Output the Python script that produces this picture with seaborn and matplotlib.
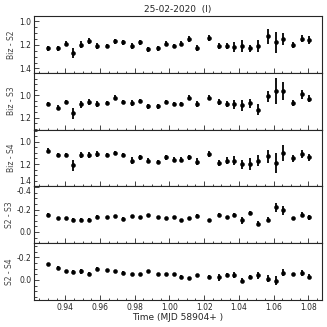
import matplotlib
matplotlib.use("Agg")
import matplotlib.pyplot as plt
from matplotlib.ticker import AutoMinorLocator
import seaborn as sns
import pandas as pd

# observation times (MJD - 58904)
time = [0.9300, 0.9358, 0.9402, 0.9446, 0.9490, 0.9536, 0.9582, 0.9640,
        0.9684, 0.9730, 0.9787, 0.9832, 0.9876, 0.9935, 0.9981, 1.0025,
        1.0069, 1.0113, 1.0158, 1.0229, 1.0286, 1.0330, 1.0374, 1.0420,
        1.0464, 1.0509, 1.0566, 1.0612, 1.0656, 1.0714, 1.0762, 1.0806]

biz_s2 = [1.23, 1.23, 1.19, 1.27, 1.20, 1.17, 1.21, 1.21, 1.17, 1.18, 1.21, 1.18,
          1.24, 1.23, 1.19, 1.21, 1.19, 1.15, 1.23, 1.14, 1.21, 1.21, 1.22, 1.21,
          1.23, 1.21, 1.13, 1.18, 1.15, 1.20, 1.15, 1.16]
biz_s2_err = [0.02, 0.02, 0.02, 0.04, 0.03, 0.025, 0.025, 0.02, 0.02, 0.02, 0.025, 0.02,
              0.02, 0.02, 0.02, 0.02, 0.02, 0.025, 0.025, 0.025, 0.025, 0.025, 0.04, 0.05,
              0.03, 0.05, 0.06, 0.09, 0.05, 0.025, 0.03, 0.03]

biz_s3 = [1.08, 1.11, 1.06, 1.16, 1.08, 1.06, 1.08, 1.07, 1.02, 1.06, 1.07, 1.05,
          1.10, 1.10, 1.06, 1.08, 1.08, 1.02, 1.08, 1.02, 1.06, 1.08, 1.08, 1.09,
          1.07, 1.13, 1.01, 0.96, 0.96, 1.07, 0.99, 1.03]
biz_s3_err = [0.02, 0.02, 0.02, 0.05, 0.03, 0.025, 0.025, 0.02, 0.02, 0.02, 0.025, 0.02,
              0.02, 0.02, 0.02, 0.02, 0.02, 0.025, 0.025, 0.025, 0.025, 0.025, 0.04, 0.05,
              0.04, 0.05, 0.05, 0.12, 0.08, 0.03, 0.04, 0.03]

biz_s4 = [1.08, 1.12, 1.12, 1.21, 1.12, 1.12, 1.11, 1.12, 1.10, 1.12, 1.17, 1.14,
          1.17, 1.18, 1.14, 1.16, 1.16, 1.14, 1.18, 1.11, 1.19, 1.17, 1.17, 1.20,
          1.20, 1.17, 1.13, 1.19, 1.10, 1.15, 1.11, 1.14]
biz_s4_err = [0.02, 0.02, 0.02, 0.05, 0.03, 0.03, 0.03, 0.02, 0.02, 0.02, 0.03, 0.02,
              0.02, 0.02, 0.02, 0.02, 0.02, 0.025, 0.03, 0.03, 0.03, 0.03, 0.04, 0.04,
              0.05, 0.05, 0.06, 0.09, 0.07, 0.03, 0.04, 0.03]

s2_s3 = [-0.155, -0.125, -0.125, -0.11, -0.11, -0.11, -0.135, -0.135, -0.145, -0.12, -0.14, -0.135,
         -0.15, -0.13, -0.125, -0.13, -0.105, -0.125, -0.145, -0.105, -0.155, -0.13, -0.15, -0.105,
         -0.17, -0.075, -0.11, -0.22, -0.195, -0.125, -0.155, -0.13]
s2_s3_err = [0.01, 0.01, 0.01, 0.015, 0.015, 0.012, 0.012, 0.01, 0.01, 0.01, 0.012, 0.01,
             0.01, 0.01, 0.01, 0.01, 0.01, 0.01, 0.012, 0.012, 0.012, 0.012, 0.02, 0.03,
             0.02, 0.025, 0.025, 0.04, 0.04, 0.012, 0.02, 0.02]

s2_s4 = [-0.14, -0.11, -0.075, -0.07, -0.075, -0.055, -0.1, -0.09, -0.075, -0.065, -0.05, -0.05,
         -0.08, -0.055, -0.05, -0.05, -0.03, -0.02, -0.04, -0.03, -0.025, -0.045, -0.045, 0.005,
         -0.025, -0.04, -0.01, 0.005, -0.065, -0.05, -0.06, -0.03]
s2_s4_err = [0.01, 0.01, 0.012, 0.02, 0.02, 0.012, 0.012, 0.01, 0.01, 0.01, 0.01, 0.01,
             0.012, 0.01, 0.01, 0.01, 0.01, 0.01, 0.012, 0.012, 0.03, 0.015, 0.025, 0.025,
             0.02, 0.03, 0.03, 0.04, 0.03, 0.012, 0.025, 0.02]

panels = [
    ("Biz - S2", biz_s2, biz_s2_err, (1.437, 0.957), [1.0, 1.2, 1.4]),
    ("Biz - S3", biz_s3, biz_s3_err, (1.308, 0.797), [1.0, 1.2]),
    ("Biz - S4", biz_s4, biz_s4_err, (1.40, 0.89), [1.0, 1.2, 1.4]),
    ("S2 - S3", s2_s3, s2_s3_err, (0.10, -0.408), [-0.4, -0.2, 0.0]),
    ("S2 - S4", s2_s4, s2_s4_err, (0.176, -0.326), [-0.2, 0.0]),
]

sns.set_style("ticks")
plt.rcParams["font.family"] = ["DejaVu Sans"]

fig, axes = plt.subplots(5, 1, figsize=(3.27, 3.27), dpi=100, sharex=True)
fig.subplots_adjust(left=0.104, right=0.985, top=0.951, bottom=0.083, hspace=0)

for ax, (label, vals, errs, ylim, yticks) in zip(axes, panels):
    df = pd.DataFrame({"time": time, "val": vals, "err": errs})
    ax.errorbar(df["time"], df["val"], yerr=df["err"], fmt="none",
                ecolor="black", elinewidth=1.3, capsize=0)
    sns.scatterplot(data=df, x="time", y="val", ax=ax, color="black",
                    s=8, marker="o", edgecolor="black", linewidth=0.4)
    ax.set_ylim(*ylim)
    ax.set_yticks(yticks)
    ax.set_yticklabels([f"{t:.1f}" for t in yticks])
    ax.set_ylabel(label, fontsize=5.5, color="#444444", labelpad=2)
    ax.set_xlabel("")
    ax.yaxis.set_minor_locator(AutoMinorLocator(4))
    ax.xaxis.set_minor_locator(AutoMinorLocator(4))
    ax.tick_params(which="both", direction="in", labelsize=5.5, pad=2, width=0.6)
    ax.tick_params(which="major", length=3.5)
    ax.tick_params(which="minor", length=1.8)
    for sp in ax.spines.values():
        sp.set_linewidth(0.8)

# the 1.4 / -0.4 labels meet at the panel join; nudge them apart
axes[2].get_yticklabels()[-1].set_verticalalignment("bottom")
axes[3].get_yticklabels()[0].set_verticalalignment("top")

axes[-1].set_xlim(0.922, 1.088)
axes[-1].set_xticks([0.94, 0.96, 0.98, 1.00, 1.02, 1.04, 1.06, 1.08])
axes[-1].set_xticklabels(["0.94", "0.96", "0.98", "1.00", "1.02", "1.04", "1.06", "1.08"])
axes[-1].set_xlabel("Time (MJD 58904+ )", fontsize=6.5, labelpad=1)
axes[0].set_title("25-02-2020  (I)", fontsize=6.5, pad=3)

fig.savefig("out.png", dpi=100)
